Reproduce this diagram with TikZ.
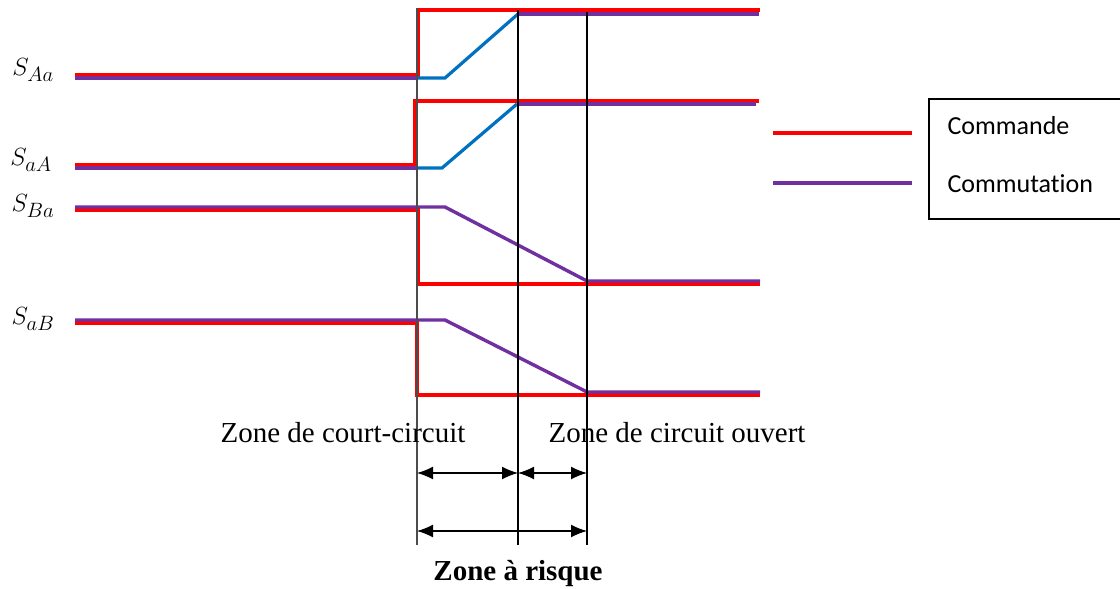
\documentclass[tikz,border=0pt]{standalone}
\usepackage{amsmath}
\usepackage{fontspec}
\usepackage{xcolor}
\setmainfont{Liberation Serif}
\newfontfamily\legfont[Ligatures=NoCommon]{Carlito}
\usetikzlibrary{arrows.meta}
\definecolor{cmdred}{RGB}{255,0,0}
\definecolor{compurple}{RGB}{112,48,160}
\definecolor{transblue}{RGB}{0,112,192}

\begin{document}
\begin{tikzpicture}[x=1pt,y=-1pt]%
  \tikzstyle{cmd}=[draw=cmdred,line width=4.2pt]
  \tikzstyle{com}=[draw=compurple,line width=3.4pt]
  \tikzstyle{trans}=[draw=transblue,line width=3.2pt]
  \tikzstyle{zone}=[draw=black,line width=1.6pt]
  \tikzstyle{dim}=[{Latex[length=16pt,width=13pt]}-{Latex[length=16pt,width=13pt]},line width=1.4pt]
  \tikzstyle{sig}=[font=\fontsize{31}{33}\selectfont]
  \tikzstyle{zlab}=[font=\fontsize{29}{31}\selectfont]
  \tikzstyle{leg}=[font=\legfont\fontsize{26}{28}\selectfont,anchor=west]
  \useasboundingbox (0,0) rectangle (1120,589);
  % signal names
  \node(sAa)[sig] at (33,70) {$S_{Aa}$};
  \node(saA)[sig] at (31,160) {$S_{aA}$};
  \node(sBa)[sig] at (33,206) {$S_{Ba}$};
  \node(saB)[sig] at (33,319) {$S_{aB}$};
  % S_Aa
  \draw[cmd] (75,75) -- (418,75) -- (418,10) -- (760,10);
  \draw[com] (75,78) -- (418,78);
  \draw[trans] (418,78) -- (445,78) -- (518,14);
  \draw[com] (518,14) -- (759,14);
  % S_aA
  \draw[cmd] (75,165) -- (415,165) -- (415,101) -- (759,101);
  \draw[com] (75,168) -- (418,168);
  \draw[trans] (418,168) -- (442,168) -- (517,104);
  \draw[com] (517,104) -- (756,104);
  % S_Ba
  \draw[cmd] (75,210) -- (418,210) -- (418,284) -- (760,284);
  \draw[com] (75,207) -- (445,207) -- (587,281) -- (760,281);
  % S_aB
  \draw[cmd] (75,323) -- (417,323) -- (417,395) -- (760,395);
  \draw[com] (75,320) -- (445,320) -- (587,392) -- (760,392);
  % instants
  \coordinate(t0) at (417,8);  \coordinate(t0b) at (417,545);
  \coordinate(t1) at (518,10); \coordinate(t1b) at (518,545);
  \coordinate(t2) at (587,12); \coordinate(t2b) at (587,545);
  \draw[zone,draw=black!70,line width=1.2pt] (t0) -- (t0b);
  \draw[zone] (t1) -- (t1b);
  \draw[zone] (t2) -- (t2b);
  % zones
  \node(cc)[zlab] at (343,433) {Zone de court-circuit};
  \node(co)[zlab] at (677,433) {Zone de circuit ouvert};
  \coordinate(a0) at (417,473); \coordinate(a1) at (518,473); \coordinate(a2) at (587,473);
  \coordinate(b0) at (417,531); \coordinate(b2) at (587,531);
  \draw[dim] (a0) -- (a1);
  \draw[dim] (a1) -- (a2);
  \draw[dim] (b0) -- (b2);
  \node(risk)[zlab,font=\bfseries\fontsize{29}{31}\selectfont] at (518,574) {Zone à risque};
  % legend
  \coordinate(lr0) at (773,133); \coordinate(lr1) at (912,133);
  \coordinate(lp0) at (773,183); \coordinate(lp1) at (912,183);
  \draw[cmd] (lr0) -- (lr1);
  \draw[com] (lp0) -- (lp1);
  \draw[line width=1.8pt] (929,99) rectangle (1126,219);
  \node(lcmd)[leg] at (944,126) {Commande};
  \node(lcom)[leg] at (944,184) {Commutation};
\end{tikzpicture}
\end{document}
